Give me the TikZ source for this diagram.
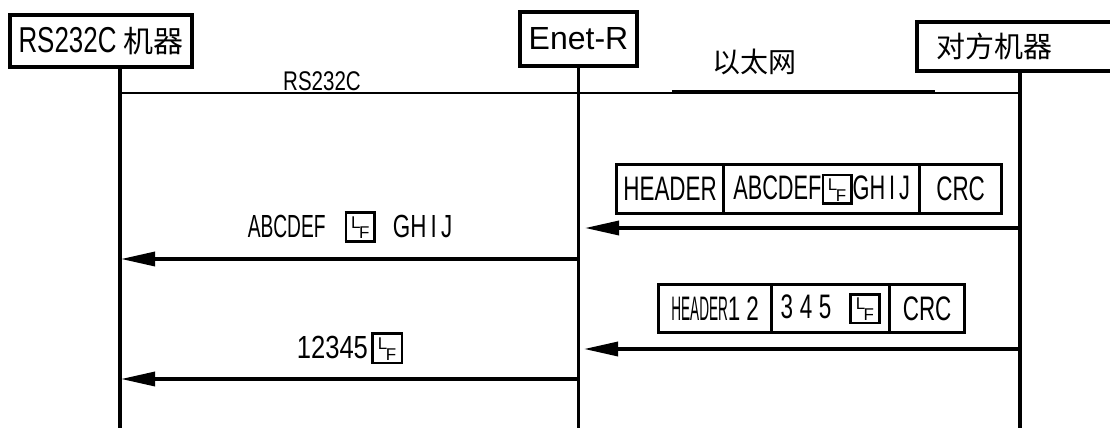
\documentclass[tikz,border=0pt]{standalone}
\usepackage{fontspec}
\usepackage{graphicx}
\setmainfont{Liberation Sans}
\newfontfamily\cjk{Noto Sans CJK SC}
\usetikzlibrary{arrows.meta}
% LF symbol: #1 inner size (pt), #2 font size
\newcommand\LFsym[2]{\raisebox{-3pt}{\setlength\fboxrule{2.6pt}\setlength\fboxsep{0pt}\fbox{\rule{0pt}{#1pt}\makebox[#1pt][c]{\fontsize{#2}{#2}\selectfont\raisebox{\dimexpr #1pt*46/100\relax}{L}\hspace{-1.5pt}\raisebox{\dimexpr #1pt*4/100\relax}{F}}}}}
\newcommand\cond[3]{\scalebox{#1}[1]{\fontsize{#2}{#2}\selectfont #3}}
\begin{document}
\begin{tikzpicture}[x=1pt,y=-1pt,
  lbox/.style={draw, line width=3.6pt, inner sep=0pt, fill=white},
  life/.style={line width=3.2pt},
  msg/.style={line width=3.4pt, -{Triangle[length=34pt,width=14pt]}},
  cell/.style={draw, line width=3.2pt, inner sep=0pt, anchor=north west},
  lbl/.style={inner sep=0pt}]
\useasboundingbox (0,0) rectangle (1110,428);
\fill[white] (0,0) rectangle (1110,428);

% lifeline coordinates
\coordinate (L0) at (120,67);   \coordinate (L1) at (120,428);
\coordinate (E0) at (578.5,66); \coordinate (E1) at (578.5,428);
\coordinate (R0) at (1020,69);  \coordinate (R1) at (1020,428);
\draw[life] (L0) -- (L1);
\draw[life] (E0) -- (E1);
\draw[life] (R0) -- (R1);

% top boxes
\node[lbox, minimum width=182pt, minimum height=52pt] (m1) at (101,41)
  {\cond{0.72}{36}{RS232C}\hspace{7pt}{\cjk\fontsize{30}{30}\selectfont 机器}};
\node[lbox, minimum width=117pt, minimum height=54pt] (m2) at (578.5,39)
  {\fontsize{32}{32}\selectfont Enet-R};
\node[lbox, anchor=north west, minimum height=49pt, inner xsep=20pt, text width=175pt, align=left] (m3) at (915,20)
  {\cjk\fontsize{29}{29}\selectfont 对方机器};

% network line
\coordinate (H0) at (120,93); \coordinate (H1) at (1020,93);
\draw[line width=2.8pt] (H0) -- (H1);
\coordinate (H2) at (672,92); \coordinate (H3) at (935,92);
\draw[line width=3.6pt] (H2) -- (H3);
\node[lbl] (t1) at (322,81) {\cond{0.76}{27}{RS232C}};
\node[lbl] (t2) at (754,62) {\cjk\fontsize{28}{28}\selectfont 以太网};

% packet 1
\node[cell, minimum width=107pt, minimum height=49pt] (c11) at (615,163) {\cond{0.66}{34}{HEADER}};
\node[cell, minimum width=196pt, minimum height=49pt] (c12) at (722,163)
  {\cond{0.64}{34}{ABCDEF}\LFsym{26}{17}\cond{0.64}{34}{GH\hspace{6pt}I\hspace{6pt}J}};
\node[cell, minimum width=82pt, minimum height=49pt] (c13) at (918,163) {\cond{0.66}{34}{CRC}};

% packet 2
\node[cell, minimum width=113pt, minimum height=48pt] (c21) at (657,283)
  {\cond{0.4}{34}{HEADER}\cond{0.66}{34}{1\hspace{9pt}2}};
\node[cell, minimum width=118pt, minimum height=48pt] (c22) at (770,283)
  {\cond{0.66}{34}{3\hspace{10pt}4\hspace{10pt}5}\hspace{18pt}\LFsym{26}{17}};
\node[cell, minimum width=75pt, minimum height=48pt] (c23) at (888,283) {\cond{0.66}{34}{CRC}};

% labels
\node[lbl] (t3) at (350,227)
  {\cond{0.6}{32}{ABCDEF}\hspace{19pt}\LFsym{26}{17}\hspace{17pt}\cond{0.7}{32}{GH\hspace{6pt}I\hspace{6pt}J}};
\node[lbl] (t4) at (350,348)
  {\cond{0.8}{32}{12345}\hspace{3pt}\LFsym{27}{17}};

% messages
\coordinate (a1s) at (1020,228); \coordinate (a1e) at (585,228);
\coordinate (a2s) at (578.5,259); \coordinate (a2e) at (121,259);
\coordinate (a3s) at (1020,349); \coordinate (a3e) at (584,349);
\coordinate (a4s) at (578.5,379); \coordinate (a4e) at (121,379);
\draw[msg] (a1s) -- (a1e);
\draw[msg] (a2s) -- (a2e);
\draw[msg] (a3s) -- (a3e);
\draw[msg] (a4s) -- (a4e);
\end{tikzpicture}
\end{document}
